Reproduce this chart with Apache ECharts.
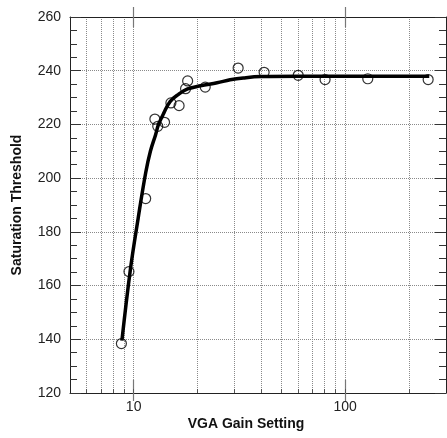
<!DOCTYPE html>
<html><head><meta charset="utf-8">
<script src="https://cdn.jsdelivr.net/npm/echarts@6/dist/echarts.min.js"></script>
<style>html,body{margin:0;padding:0;background:#fff}#c{width:447px;height:438px}</style>
</head><body><div id="c"></div>
<script>
// Measured points
const gainSetting = [8.75, 9.5, 11.4, 12.6, 13.0, 14.0, 15.0, 16.4, 17.6, 18.0, 21.8, 31.2, 41.4, 60, 80.4, 128, 247];
const saturation  = [138.4, 165.2, 192.4, 222, 219.3, 220.8, 228, 227, 233.3, 236.2, 233.9, 241, 239.4, 238.3, 236.7, 237, 236.7];
// Fitted curve
const fitGain      = [8.8, 9.65, 10.5, 11.4, 12.0, 12.7, 13.1, 13.9, 14.9, 16.3, 18.0, 20.7, 24.8, 28.6, 33, 40, 60, 250];
const fitThreshold = [139.5, 166, 185, 202, 210, 216.2, 219.9, 224.3, 228.6, 231.2, 233.2, 234.4, 235.5, 236.6, 237.3, 237.8, 237.9, 237.9];
// Axis ticks
const xLabelTicks = [10, 100];
const xGridTicks = [6, 7, 8, 9, 10, 20, 30, 40, 50, 60, 70, 80, 90, 100, 200];
const xMin = 5, xMax = 300;
const yMin = 120, yMax = 260, yStep = 20;
const xTitle = 'VGA Gain Setting';
const yTitle = 'Saturation Threshold';

const FONT = 'Liberation Sans, Arial, Helvetica, sans-serif';
const chart = echarts.init(document.getElementById('c'), null, {renderer: 'canvas'});

function xAxisBase(extra) {
  return Object.assign({
    type: 'log', logBase: 10, min: xMin, max: xMax, gridIndex: 0,
    axisLine: {show: false},
    axisTick: {show: false},
    axisLabel: {show: false},
    splitLine: {show: false},
    minorTick: {show: false},
    minorSplitLine: {show: false}
  }, extra);
}

const option = {
  animation: false,
  backgroundColor: '#fff',
  grid: {left: 70, top: 17, width: 376, height: 376, containLabel: false},
  graphic: [
    {type: 'text', x: 246, y: 417, z: 10,
     style: {text: xTitle, fontSize: 14, fontWeight: 'bold', fontFamily: FONT, fill: '#111', align: 'center', verticalAlign: 'top'}}
  ],
  xAxis: [
    xAxisBase({
      position: 'bottom',
      axisLine: {show: true, onZero: false, lineStyle: {color: '#222', width: 1}},
      axisTick: {show: true, inside: false, length: 8, customValues: xLabelTicks, lineStyle: {color: '#777', width: 1.2}},
      axisLabel: {show: true, customValues: xLabelTicks, fontSize: 14, fontFamily: FONT, color: '#222', margin: 7,
        formatter: function (v) { return String(Math.round(v)); }}
    }),
    xAxisBase({
      position: 'bottom',
      axisTick: {show: true, inside: true, length: 13, customValues: xLabelTicks, lineStyle: {color: '#777', width: 1.2}}
    }),
    xAxisBase({
      position: 'bottom',
      axisTick: {show: true, inside: true, length: 4, customValues: xGridTicks, lineStyle: {color: '#555', width: 1}},
      splitLine: {show: true, lineStyle: {color: '#8a8a8a', width: 1, type: [1, 1]}}
    }),
    xAxisBase({
      position: 'top',
      axisLine: {show: true, onZero: false, lineStyle: {color: '#222', width: 1}},
      axisTick: {show: true, inside: false, length: 10, customValues: xLabelTicks, lineStyle: {color: '#777', width: 1.2}}
    }),
    xAxisBase({
      position: 'top',
      axisTick: {show: true, inside: true, length: 10, customValues: xLabelTicks, lineStyle: {color: '#777', width: 1.2}}
    })
  ],
  yAxis: [
    {
      type: 'value', position: 'left', min: yMin, max: yMax, interval: yStep,
      axisLine: {show: true, onZero: false, lineStyle: {color: '#222', width: 1}},
      axisTick: {show: true, inside: true, length: 11, lineStyle: {color: '#333', width: 1}},
      minorTick: {show: true, splitNumber: 4, length: 7, lineStyle: {color: '#333', width: 1}},
      axisLabel: {fontSize: 14, fontFamily: FONT, color: '#222', margin: 9},
      splitLine: {show: true, lineStyle: {color: '#8a8a8a', width: 1, type: [1, 1]}},
      name: yTitle, nameLocation: 'middle', nameGap: 46, nameRotate: 90,
      nameTextStyle: {fontSize: 14, fontWeight: 'bold', fontFamily: FONT, color: '#111'}
    },
    {
      type: 'value', position: 'right', min: yMin, max: yMax, interval: yStep,
      axisLine: {show: true, onZero: false, lineStyle: {color: '#222', width: 1}},
      axisTick: {show: true, inside: true, length: 11, lineStyle: {color: '#333', width: 1}},
      minorTick: {show: true, splitNumber: 4, length: 7, lineStyle: {color: '#333', width: 1}},
      axisLabel: {show: false},
      splitLine: {show: false}
    }
  ],
  series: [
    {
      type: 'line', xAxisIndex: 0, yAxisIndex: 0,
      data: fitGain.map(function (g, i) { return [g, fitThreshold[i]]; }),
      smooth: 0.4,
      showSymbol: false, symbol: 'none',
      lineStyle: {color: '#000', width: 3.5},
      z: 2
    },
    {
      type: 'scatter', xAxisIndex: 0, yAxisIndex: 0,
      data: gainSetting.map(function (g, i) { return [g, saturation[i]]; }),
      symbol: 'circle', symbolSize: 10,
      itemStyle: {color: 'rgba(0,0,0,0)', borderColor: '#000', borderWidth: 1.2},
      z: 3
    }
  ]
};
chart.setOption(option);
</script>
</body></html>
